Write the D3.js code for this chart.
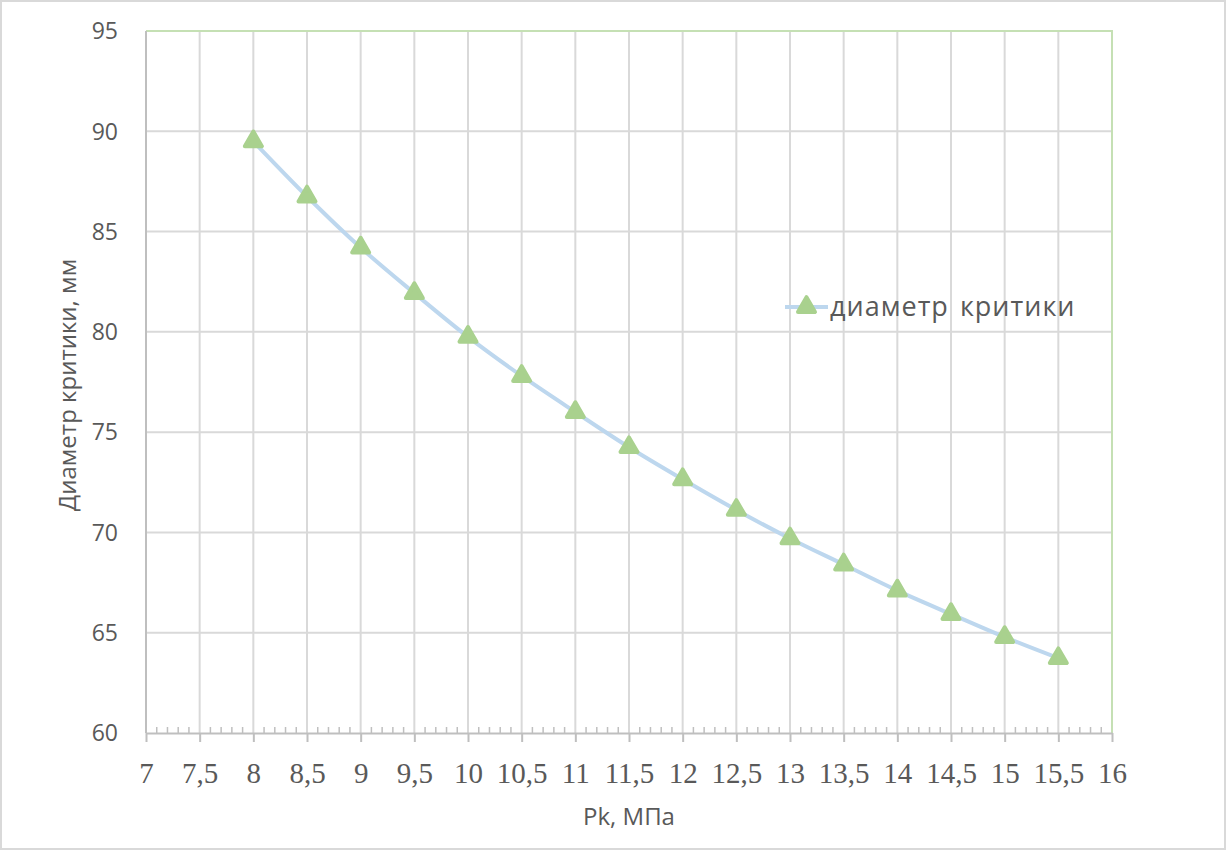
<!DOCTYPE html>
<html>
<head>
<meta charset="utf-8">
<script src="https://cdn.jsdelivr.net/npm/d3@7"></script>
<style>
  body { margin: 0; background: #fff; }
  svg { display: block; }
</style>
</head>
<body>
<svg id="chart" width="1227" height="851"></svg>
<script>
'use strict'

// data
var pressure = [8, 8.5, 9, 9.5, 10, 10.5, 11, 11.5, 12, 12.5, 13, 13.5, 14, 14.5, 15, 15.5];
var diameter = [89.5, 86.75, 84.2, 81.93, 79.75, 77.8, 76.0, 74.25, 72.65, 71.12, 69.7, 68.4, 67.1, 65.93, 64.78, 63.73];
var xTicks = [7, 7.5, 8, 8.5, 9, 9.5, 10, 10.5, 11, 11.5, 12, 12.5, 13, 13.5, 14, 14.5, 15, 15.5, 16];
var yTicks = [60, 65, 70, 75, 80, 85, 90, 95];
var seriesName = "диаметр критики";

var svg = d3.select("#chart"),
    plotLeft = 146,
    plotRight = 1112,
    plotTop = 31,
    plotBottom = 733;

var x = d3.scaleLinear().domain([7, 16]).range([plotLeft, plotRight]);
var y = d3.scaleLinear().domain([60, 95]).range([plotBottom, plotTop]);

var fmt = function(d) { return String(d).replace(".", ","); };

// outer frame
svg.append("rect")
    .attr("x", 1).attr("y", 1).attr("width", 1224).attr("height", 848)
    .attr("fill", "#fff").attr("stroke", "#d9d9d9").attr("stroke-width", 2);

// gridlines
svg.append("g").selectAll("line")
  .data(xTicks.slice(1))
  .enter().append("line")
    .attr("x1", function(d) { return x(d); }).attr("x2", function(d) { return x(d); })
    .attr("y1", plotTop).attr("y2", plotBottom)
    .attr("stroke", "#d9d9d9").attr("stroke-width", 2);

svg.append("g").selectAll("line")
  .data(yTicks.slice(1))
  .enter().append("line")
    .attr("x1", plotLeft).attr("x2", plotRight)
    .attr("y1", function(d) { return y(d); }).attr("y2", function(d) { return y(d); })
    .attr("stroke", "#d9d9d9").attr("stroke-width", 2);

// green top and right border
svg.append("path")
    .attr("d", "M" + plotLeft + "," + plotTop + "H" + plotRight + "V" + plotBottom)
    .attr("fill", "none").attr("stroke", "#c5e0b4").attr("stroke-width", 2);

// y axis line
svg.append("line")
    .attr("x1", plotLeft).attr("x2", plotLeft).attr("y1", plotTop).attr("y2", plotBottom)
    .attr("stroke", "#bfbfbf").attr("stroke-width", 2);

// x axis: major ticks below, minor ticks above
var minor = d3.range(70, 161).map(function(d) { return d / 10; })
    .filter(function(d) { return Math.round(d * 10) % 5 !== 0; });

var xAxis = svg.append("g")
    .attr("transform", "translate(0," + plotBottom + ")")
    .call(d3.axisBottom(x).tickValues(xTicks).tickSize(9).tickFormat(fmt).tickSizeOuter(0));
xAxis.select(".domain").attr("stroke", "#bfbfbf").attr("stroke-width", 2);
xAxis.selectAll(".tick line").attr("stroke", "#bfbfbf").attr("stroke-width", 2);
xAxis.selectAll(".tick text")
    .attr("y", 50).attr("dy", 0)
    .attr("fill", "#595959")
    .style("font-family", "'Liberation Serif', 'Times New Roman', serif")
    .style("font-size", "29px");

svg.append("g").selectAll("line")
  .data(minor)
  .enter().append("line")
    .attr("x1", function(d) { return x(d); }).attr("x2", function(d) { return x(d); })
    .attr("y1", plotBottom - 6).attr("y2", plotBottom)
    .attr("stroke", "#bfbfbf").attr("stroke-width", 1.5);

// y tick labels
svg.append("g").selectAll("text")
  .data(yTicks)
  .enter().append("text")
    .attr("x", 118)
    .attr("y", function(d) { return y(d); })
    .attr("dy", "0.36em")
    .attr("text-anchor", "end")
    .attr("fill", "#595959")
    .style("font-family", "'Open Sans', sans-serif")
    .style("font-size", "23px")
    .text(function(d) { return d; });

// axis titles
svg.append("text")
    .attr("transform", "translate(76,385) rotate(-90)")
    .attr("text-anchor", "middle")
    .attr("fill", "#595959")
    .style("font-family", "'Open Sans', sans-serif")
    .style("font-size", "24px")
    .text("Диаметр критики, мм");

svg.append("text")
    .attr("x", 629).attr("y", 825)
    .attr("text-anchor", "middle")
    .attr("fill", "#595959")
    .style("font-family", "'Open Sans', sans-serif")
    .style("font-size", "24px")
    .text("Pk, МПа");

// series
var points = pressure.map(function(p, i) { return {x: p, y: diameter[i]}; });

var line = d3.line()
    .x(function(d) { return x(d.x); })
    .y(function(d) { return y(d.y); })
    .curve(d3.curveCatmullRom);

svg.append("path")
    .datum(points)
    .attr("d", line)
    .attr("fill", "none")
    .attr("stroke", "#bdd7ee")
    .attr("stroke-width", 4);

var tri = d3.symbol().type(d3.symbolTriangle).size(125);

svg.append("g").selectAll("path")
  .data(points)
  .enter().append("path")
    .attr("d", tri)
    .attr("transform", function(d) { return "translate(" + x(d.x) + "," + y(d.y) + ")"; })
    .attr("fill", "#a9d18e")
    .attr("stroke", "#a9d18e")
    .attr("stroke-width", 4)
    .attr("stroke-linejoin", "round");

// legend
var legend = svg.append("g").attr("transform", "translate(785,307)");
legend.append("line")
    .attr("x1", 0).attr("x2", 43).attr("y1", 0).attr("y2", 0)
    .attr("stroke", "#bdd7ee").attr("stroke-width", 4);
legend.append("path")
    .attr("d", tri)
    .attr("transform", "translate(21.5,0)")
    .attr("fill", "#a9d18e").attr("stroke", "#a9d18e")
    .attr("stroke-width", 4).attr("stroke-linejoin", "round");
legend.append("text")
    .attr("x", 45).attr("y", 0).attr("dy", "0.34em")
    .attr("fill", "#595959")
    .style("font-family", "'Open Sans', sans-serif")
    .style("font-size", "27px")
    .style("letter-spacing", "1px")
    .style("word-spacing", "3px")
    .text(seriesName);
</script>
</body>
</html>
